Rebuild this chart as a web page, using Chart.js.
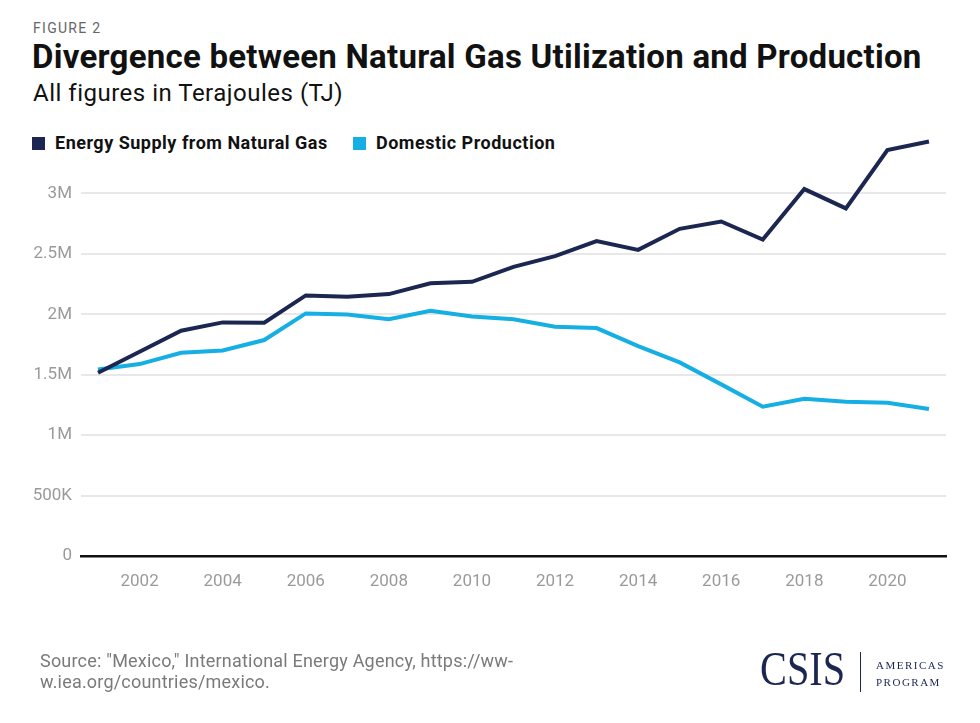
<!DOCTYPE html>
<html>
<head>
<meta charset="utf-8">
<script src="https://cdn.jsdelivr.net/npm/chart.js@4.4.1/dist/chart.umd.min.js"></script>
<style>
  html, body { margin: 0; padding: 0; background: #fff; }
  body { width: 980px; height: 723px; position: relative; overflow: hidden; font-family: Roboto, "Liberation Sans", sans-serif; }
  #wrap { position: absolute; left: 0; top: 0; width: 980px; height: 723px; }
  .fig { position: absolute; left: 33px; top: 20px; font-size: 14px; letter-spacing: 1.3px; color: #666; }
  .title { position: absolute; left: 32px; top: 37px; font-size: 33px; font-weight: 700; color: #111; letter-spacing: 0.25px; white-space: nowrap; }
  .sub { position: absolute; left: 33px; top: 79px; font-size: 24px; color: #111; letter-spacing: 0.5px; }
  .legend { position: absolute; top: 132px; left: 32px; font-size: 18px; font-weight: 700; color: #111; letter-spacing: 0.5px; }
  .legend span.item { position: absolute; white-space: nowrap; }
  .legend i { display: inline-block; width: 13px; height: 13px; vertical-align: -1px; margin-right: 10px; }
  .source { position: absolute; left: 40px; top: 650px; font-size: 18px; line-height: 21px; color: #7a7a7a; letter-spacing: 0.2px; white-space: nowrap; }
  .logo { position: absolute; left: 760px; top: 645px; font-family: "Liberation Serif", "DejaVu Serif", serif; font-size: 48px; color: #1c2751; transform: scaleX(0.84); transform-origin: left top; line-height: 48px; }
  .bar { position: absolute; left: 860px; top: 652px; width: 1px; height: 40px; background: #1c2751; }
  .prog { position: absolute; left: 876px; top: 657px; font-family: "Liberation Serif", serif; font-size: 11px; letter-spacing: 1.5px; color: #1c2751; line-height: 17px; }
</style>
</head>
<body>
<div class="fig">FIGURE 2</div>
<div class="title">Divergence between Natural Gas Utilization and Production</div>
<div class="sub">All figures in Terajoules (TJ)</div>
<div class="legend">
  <span class="item" style="left:0"><i style="background:#1c2751"></i>Energy Supply from Natural Gas</span>
  <span class="item" style="left:321px"><i style="background:#16afe4"></i>Domestic Production</span>
</div>
<div id="wrap"><canvas id="c" width="980" height="723"></canvas></div>
<div class="source">Source: "Mexico," International Energy Agency, https://ww-<br>w.iea.org/countries/mexico.</div>
<div class="logo">CSIS</div>
<div class="bar"></div>
<div class="prog">AMERICAS<br>PROGRAM</div>
<script>
// données (TJ)
const years = [2001,2002,2003,2004,2005,2006,2007,2008,2009,2010,2011,2012,2013,2014,2015,2016,2017,2018,2019,2020,2021];
const supplyValues = [1516000,1690000,1864000,1933000,1930000,2156000,2145000,2167000,2256000,2269000,2393000,2481000,2605000,2533000,2707000,2768000,2619000,3036000,2876000,3358000,3430000];
const productionValues = [1544000,1588000,1682000,1701000,1787000,2007000,1999000,1960000,2029000,1982000,1958000,1897000,1886000,1737000,1602000,1420000,1235000,1301000,1276000,1268000,1216000];
const xTickYears = [2002,2004,2006,2008,2010,2012,2014,2016,2018,2020];
const yTickValues = [0,500000,1000000,1500000,2000000,2500000,3000000];
const yTickLabels = ['0','500K','1M','1.5M','2M','2.5M','3M'];

const navy = '#1c2751', sky = '#16afe4';
const pts = arr => arr.map((v,i)=>({ x: years[i], y: v }));

new Chart(document.getElementById('c'), {
  type: 'line',
  data: {
    datasets: [
      { label: 'Energy Supply from Natural Gas', data: pts(supplyValues), borderColor: navy, borderWidth: 4, pointRadius: 0, tension: 0 },
      { label: 'Domestic Production', data: pts(productionValues), borderColor: sky, borderWidth: 4, pointRadius: 0, tension: 0 }
    ]
  },
  options: {
    responsive: false,
    animation: false,
    layout: { padding: { left: 0, right: 34, top: 133, bottom: 127 } },
    plugins: { legend: { display: false }, tooltip: { enabled: false } },
    scales: {
      x: {
        type: 'linear', min: 2000.59, max: 2021.41,
        afterBuildTicks: ax => { ax.ticks = xTickYears.map(v=>({ value: v })); },
        afterFit: ax => { ax.height = 40; },
        grid: { display: false, drawTicks: false },
        border: { display: true, color: '#111', width: 2.5 },
        ticks: { color: '#9a9a9a', font: { family: 'Roboto', size: 17 }, padding: 16, callback: v => String(v), maxRotation: 0 }
      },
      y: {
        min: 0, max: 3500000,
        afterBuildTicks: ax => { ax.ticks = yTickValues.map(v=>({ value: v })); },
        afterFit: ax => { ax.width = 81; },
        grid: { color: c => c.tick && c.tick.value === 0 ? 'rgba(0,0,0,0)' : '#e8e8e8', lineWidth: 2, drawTicks: false },
        border: { display: false },
        ticks: { color: '#9a9a9a', font: { family: 'Roboto', size: 17 }, padding: 9, callback: (v) => yTickLabels[yTickValues.indexOf(v)] }
      }
    }
  }
});
</script>
</body>
</html>
